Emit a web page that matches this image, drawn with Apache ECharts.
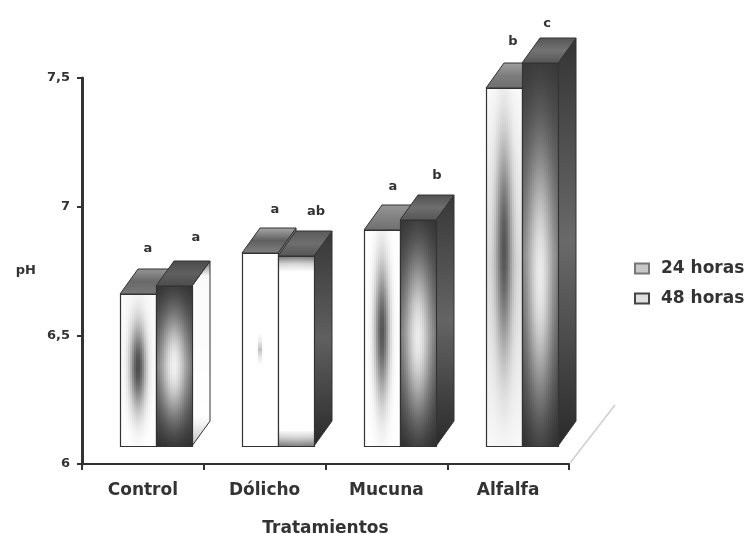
<!DOCTYPE html>
<html>
<head>
<meta charset="utf-8">
<style>html,body{margin:0;padding:0;background:#fff}#c{width:748px;height:534px;filter:blur(0.5px)}</style>
<script src="https://cdn.jsdelivr.net/npm/echarts@6/dist/echarts.min.js"></script>
</head>
<body>
<div id="c"></div>
<script>
var categories = ['Control', 'Dólicho', 'Mucuna', 'Alfalfa'];
var ph24 = [6.59, 6.75, 6.84, 7.39];
var ph48 = [6.62, 6.74, 6.88, 7.49];
var letters24 = ['a', 'a', 'a', 'b'];
var letters48 = ['a', 'ab', 'b', 'c'];
var seriesNames = ['24 horas', '48 horas'];
var axisNames = ['Tratamientos', 'pH'];

/* shading of the faces: grey-level stops plus one soft central patch */
var front24 = [
  {base: [[0, 250], [1, 255]], core: 75, su: .22, vc: .48, sv: .27},
  {base: [[0, 255], [1, 255]], core: 170, su: .05, vc: .5, sv: .04},
  {base: [[0, 255], [1, 255]], core: 85, su: .2, vc: .47, sv: .3},
  {base: [[0, 250], [.5, 222], [1, 248]], core: 85, su: .22, vc: .45, sv: .28}
];
var front48 = [
  {base: [[0, 50], [.5, 105], [1, 45]], core: 240, su: .36, vc: .5, sv: .3},
  {base: [[0, 110], [.06, 255], [.93, 255], [1, 125]], core: 255, su: .3, vc: .5, sv: .3},
  {base: [[0, 50], [.5, 105], [1, 45]], core: 235, su: .36, vc: .52, sv: .32},
  {base: [[0, 55], [.5, 115], [1, 45]], core: 235, su: .36, vc: .56, sv: .3}
];
var side48 = [
  [[0, 90], [.07, 250], [.85, 255], [1, 190]],
  [[0, 55], [.5, 95], [1, 42]],
  [[0, 55], [.5, 100], [1, 42]],
  [[0, 52], [.5, 105], [1, 42]]
];
var top24 = [[150, 105, 120], [170, 95, 130], [150, 130, 110], [160, 125, 110]];
var top48 = [[75, 95, 75], [90, 110, 85], [80, 110, 85], [85, 115, 85]];
var sideDefault = [[0, 120], [1, 60]];
var letterNudge24 = [[-4, 0], [1, 2], [-3, 2], [-5, -1]];
var letterNudge48 = [[8, -3], [6, 1], [5, 1], [-7, 6]];

var OUT = '#333';
var BAR_W = 0.295, DEPTH_X = 0.15, DEPTH_Y = 25, FLOOR_X = 13.5, FLOOR_Y = 18, LET_X = 14, LET_Y = 45;
var TXT = '#333', FONT = '"DejaVu Sans", sans-serif';

function grey(g) { g = Math.max(0, Math.min(255, Math.round(g))); return 'rgb(' + g + ',' + g + ',' + g + ')'; }
function ramp(stops, v) {
  for (var i = 1; i < stops.length; i++) {
    if (v <= stops[i][0]) {
      var t = (v - stops[i - 1][0]) / (stops[i][0] - stops[i - 1][0]);
      return stops[i - 1][1] + (stops[i][1] - stops[i - 1][1]) * t;
    }
  }
  return stops[stops.length - 1][1];
}
function vGrad(stops, n) {
  var cs = [];
  for (var k = 0; k <= n; k++) { cs.push({offset: k / n, color: grey(ramp(stops, k / n))}); }
  return new echarts.graphic.LinearGradient(0, 0, 0, 1, cs);
}
function faceStrips(x, y, w, h, sp) {
  var out = [], stepW = 2, n = Math.ceil(w / stepW);
  for (var s = 0; s < n; s++) {
    var u = (s + .5) / n, cs = [], N = 24;
    var hu = Math.exp(-Math.pow((u - .5) / sp.su, 2));
    for (var k = 0; k <= N; k++) {
      var v = k / N, b = ramp(sp.base, v);
      var t = hu * Math.exp(-Math.pow((v - sp.vc) / sp.sv, 2));
      cs.push({offset: v, color: grey(b + (sp.core - b) * t)});
    }
    out.push({type: 'rect', silent: true,
      shape: {x: x + s * stepW, y: y, width: Math.min(stepW + .6, w - s * stepW), height: h},
      style: {fill: new echarts.graphic.LinearGradient(0, 0, 0, 1, cs)}});
  }
  return out;
}
function makeRender(fronts, tops, sides, letters, nudges, slot) {
  return function (params, api) {
    var i = api.value(0), val = api.value(1);
    var band = api.size([1, 0])[0];
    var c = api.coord([i, val]), b = api.coord([i, 6]);
    var w = Math.round(band * BAR_W), dx = Math.round(band * DEPTH_X), dy = DEPTH_Y;
    var x0 = Math.round(c[0] + FLOOR_X - (slot === 0 ? w : 0));
    var yT = Math.round(c[1] - FLOOR_Y), yB = Math.round(b[1] - FLOOR_Y);
    var kids = [];
    var sideStops = sides ? sides[i] : sideDefault;
    kids.push({type: 'polygon', silent: true,
      shape: {points: [[x0 + w, yT], [x0 + w + dx, yT - dy], [x0 + w + dx, yB - dy], [x0 + w, yB]]},
      style: {fill: vGrad(sideStops, 24), stroke: OUT, lineWidth: 1}});
    var tp = tops[i];
    kids.push({type: 'polygon', silent: true,
      shape: {points: [[x0, yT], [x0 + dx, yT - dy], [x0 + w + dx, yT - dy], [x0 + w, yT]]},
      style: {fill: new echarts.graphic.LinearGradient(0, 0, 0, 1, [
        {offset: 0, color: grey(tp[0])}, {offset: .5, color: grey(tp[1])}, {offset: 1, color: grey(tp[2])}]),
        stroke: OUT, lineWidth: 1}});
    kids = kids.concat(faceStrips(x0, yT, w, yB - yT, fronts[i]));
    kids.push({type: 'rect', silent: true, shape: {x: x0 + .5, y: yT + .5, width: w, height: yB - yT},
      style: {fill: 'none', stroke: OUT, lineWidth: 1.2}});
    kids.push({type: 'text', silent: true,
      x: x0 + w / 2 + LET_X + nudges[i][0], y: yT - LET_Y + nudges[i][1],
      style: {text: letters[i], fill: TXT, font: 'bold 13px ' + FONT, align: 'center', verticalAlign: 'middle'}});
    return {type: 'group', children: kids};
  };
}
function rows(vals) { return vals.map(function (v, i) { return [i, v]; }); }

var chart = echarts.init(document.getElementById('c'), null, {renderer: 'canvas'});
chart.setOption({
  animation: false,
  backgroundColor: '#fff',
  grid: {left: 82, right: 179, top: 78, bottom: 70, containLabel: false, outerBoundsMode: 'none'},
  legend: {
    orient: 'vertical', left: 629, top: 255, itemWidth: 14, itemHeight: 10, itemGap: 13,
    textStyle: {color: TXT, fontFamily: FONT, fontWeight: 'bold', fontSize: 17, padding: [0, 0, 0, 7]},
    selectedMode: false,
    data: [
      {name: seriesNames[0], icon: 'rect', itemStyle: {color: '#c8c8c8', borderColor: '#777', borderWidth: 2}},
      {name: seriesNames[1], icon: 'rect', itemStyle: {color: '#e0e0e0', borderColor: '#444', borderWidth: 2}}
    ]
  },
  xAxis: {
    type: 'category', data: categories, boundaryGap: true,
    name: axisNames[0], nameLocation: 'middle', nameGap: 56,
    nameTextStyle: {color: TXT, fontFamily: FONT, fontWeight: 'bold', fontSize: 17},
    axisLine: {lineStyle: {color: OUT, width: 2}},
    axisTick: {show: true, alignWithLabel: false, length: 6, lineStyle: {color: OUT, width: 2}},
    axisLabel: {color: TXT, fontFamily: FONT, fontWeight: 'bold', fontSize: 17, margin: 18}
  },
  yAxis: {
    type: 'value', min: 6, max: 7.5, interval: .5,
    name: axisNames[1], nameLocation: 'middle', nameGap: 46, nameRotate: 0,
    nameTextStyle: {color: TXT, fontFamily: FONT, fontWeight: 'bold', fontSize: 13},
    axisLine: {show: true, lineStyle: {color: OUT, width: 3}},
    axisTick: {show: true, length: 5, lineStyle: {color: OUT, width: 2}},
    splitLine: {show: false},
    axisLabel: {color: TXT, fontFamily: FONT, fontWeight: 'bold', fontSize: 13, margin: 12,
      formatter: function (v) { return String(v).replace('.', ','); }}
  },
  graphic: [{
    type: 'line', silent: true, shape: {x1: 570, y1: 463, x2: 615, y2: 405},
    style: {stroke: '#cfcfcf', lineWidth: 1.5}
  }],
  series: [
    {name: seriesNames[0], type: 'custom', coordinateSystem: 'cartesian2d', clip: false,
      data: rows(ph24), encode: {x: 0, y: 1},
      renderItem: makeRender(front24, top24, null, letters24, letterNudge24, 0)},
    {name: seriesNames[1], type: 'custom', coordinateSystem: 'cartesian2d', clip: false,
      data: rows(ph48), encode: {x: 0, y: 1},
      renderItem: makeRender(front48, top48, side48, letters48, letterNudge48, 1)}
  ]
});
</script>
</body>
</html>
